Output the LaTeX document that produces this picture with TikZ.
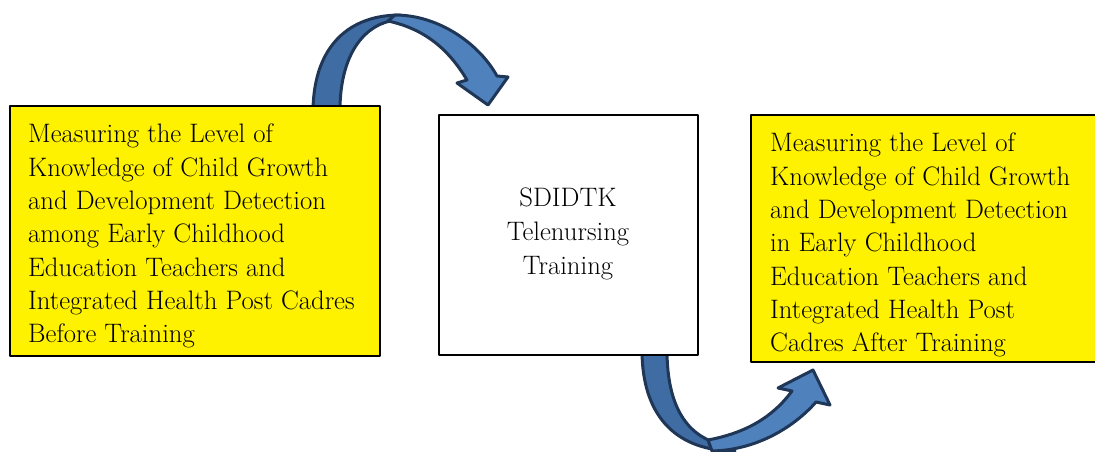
\documentclass[tikz,border=0pt]{standalone}
\usepackage{amsmath}
\usepackage{tkz-euclide}

\definecolor{arrowblue}{HTML}{4F81BD}
\definecolor{arrowdark}{HTML}{3F6CA3}
\definecolor{arrowline}{HTML}{1F3656}

\tikzset{
  boxtext/.style={inner sep=0pt,align=left,font=\fontsize{26.7}{33.3}\selectfont},
  midtext/.style={inner sep=0pt,align=center,font=\fontsize{26.7}{34}\selectfont},
  arrowfront/.style={fill=arrowblue,draw=arrowline,line width=3pt,line join=round},
  arrowback/.style={fill=arrowdark,draw=arrowline,line width=3pt,line join=round}
}

\begin{document}
\begin{tikzpicture}[x=1pt,y=-1pt]
%\tkzInit[xmax=1095,ymax=451] %\tkzClip[space=.5]
\useasboundingbox (0,0) rectangle (1095,451);
\clip (0,0) rectangle (1095,451);

\tkzDefPoint(10,106){A}
\tkzDefPoint(380,106){B}
\tkzDefPoint(380,356){C}
\tkzDefPoint(10,356){D}

\tkzDefPoint(439,115){E}
\tkzDefPoint(698,115){F}
\tkzDefPoint(698,355){G}
\tkzDefPoint(439,355){H}

\tkzDefPoint(751,115){I}
\tkzDefPoint(1110,115){J}
\tkzDefPoint(1110,362){K}
\tkzDefPoint(751,362){L}

% upper arrow
\filldraw[arrowback] (313,110) .. controls (314,45) and (350,15) .. (400,15)
  -- (390,21) .. controls (360,28) and (340,60) .. (340,110) -- cycle;
\filldraw[arrowfront] (395,15) .. controls (440,15) and (480,45) .. (497,76)
  -- (508,77) -- (488,105) -- (457,83) -- (467,80)
  .. controls (452,55) and (430,30) .. (388,21) -- cycle;

% lower arrow
\filldraw[arrowback] (642,350) .. controls (642,420) and (680,451) .. (735,451)
  -- (720,444) .. controls (688,436) and (667,408) .. (667,350) -- cycle;
\filldraw[arrowfront] (712,451) .. controls (758,450) and (795,426) .. (816,402)
  -- (830,405) -- (813,370) -- (778,388) -- (792,391)
  .. controls (772,418) and (745,433) .. (708,440) -- cycle;

\tkzDrawPolygon[fill=yellow,line width=2pt](A,B,C,D)
\tkzDrawPolygon[fill=white,line width=2pt](E,F,G,H)
\tkzDrawPolygon[fill=yellow,line width=2pt](I,J,K,L)

\node[boxtext,anchor=north west] (before) at (28,124)
  {Measuring the Level of\\
   Knowledge of Child Growth\\
   and Development Detection\\
   among Early Childhood\\
   Education Teachers and\\
   Integrated Health Post Cadres\\
   Before Training};
\node[midtext] (training) at (568,234)
  {SDIDTK\\ Telenursing\\ Training};
\node[boxtext,anchor=north west] (after) at (770,133)
  {Measuring the Level of\\
   Knowledge of Child Growth\\
   and Development Detection\\
   in Early Childhood\\
   Education Teachers and\\
   Integrated Health Post\\
   Cadres After Training};

\end{tikzpicture}
\end{document}
